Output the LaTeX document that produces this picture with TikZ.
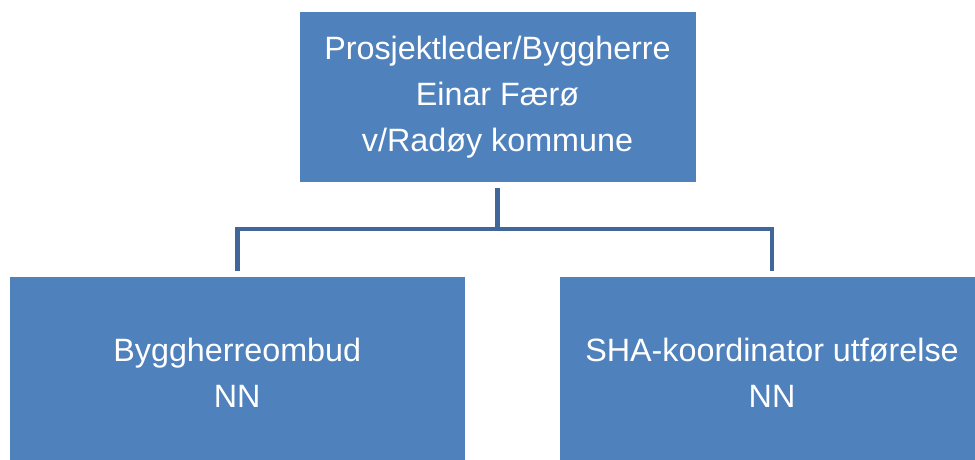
\documentclass[tikz,border=0pt]{standalone}
\usepackage{fontspec}
\setmainfont{Liberation Sans}
\definecolor{boxblue}{HTML}{4F81BD}
\definecolor{linkblue}{HTML}{41679A}
\begin{document}
\begin{tikzpicture}[x=1pt,y=-1pt,
  orgbox/.style={fill=boxblue,draw=none,text=white,align=center,font=\fontsize{32.3}{46}\selectfont},
  conn/.style={draw=linkblue,line width=4.5pt,line join=miter,shorten <=6pt,shorten >=6pt}]
\useasboundingbox (0,0) rectangle (975,459);
\node[orgbox,minimum width=396pt,minimum height=170pt] (top) at (497.5,97) {Prosjektleder/Byggherre\\Einar Færø\\v/Radøy kommune};
\node[orgbox,minimum width=455.5pt,minimum height=192pt] (left) at (237.25,373) {Byggherreombud\\NN};
\node[orgbox,minimum width=424pt,minimum height=192pt] (right) at (772,373) {SHA-koordinator utførelse\\NN};
\coordinate (j) at (497.5,229);
\draw[conn,shorten >=0pt] (top.south) -- (j);
\draw[conn] (left.north) |- (j) -| (right.north);
\end{tikzpicture}
\end{document}
